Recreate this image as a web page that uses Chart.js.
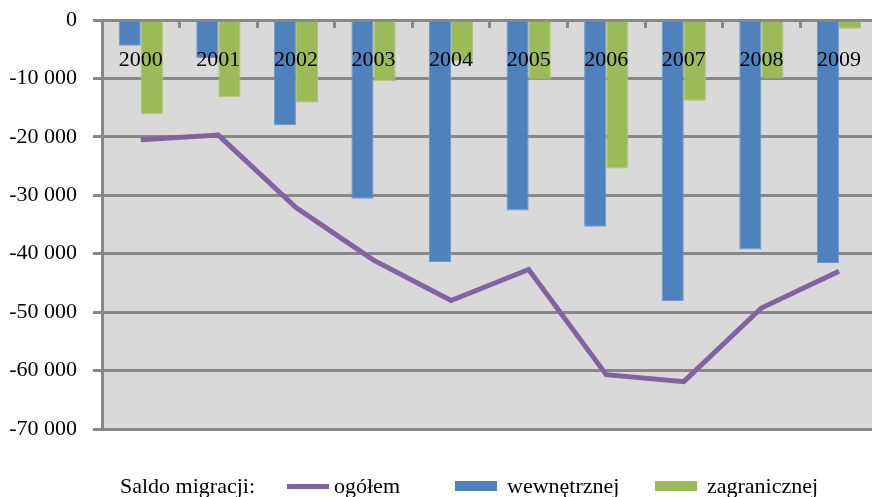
<!DOCTYPE html>
<html>
<head>
<meta charset="utf-8">
<script src="https://cdn.jsdelivr.net/npm/chart.js@4"></script>
<style>
  html, body { margin: 0; padding: 0; overflow: hidden; background: #fff; }
  #wrap { position: relative; width: 872px; height: 497px; overflow: hidden; }
  #chart { position: absolute; left: 0; top: 0; }
  .lg { position: absolute; top: 471px; font: 22px "Liberation Serif", "Times New Roman", serif; color: #000; white-space: nowrap; line-height: 30px; }
  .sw { position: absolute; }
</style>
</head>
<body>
<div id="wrap">
  <canvas id="chart" width="880" height="497"></canvas>
  <div id="legend"></div>
</div>
<script>
const years = ["2000", "2001", "2002", "2003", "2004", "2005", "2006", "2007", "2008", "2009"];
const ogolem = [-20500, -19700, -32100, -41100, -48000, -42700, -60700, -61900, -49300, -43000];
const wewnetrznej = [-4400, -6500, -18000, -30600, -41400, -32600, -35400, -48100, -39300, -41600];
const zagranicznej = [-16100, -13200, -14100, -10500, -7000, -10200, -25400, -13800, -10000, -1500];
const yTicks = [0, -10000, -20000, -30000, -40000, -50000, -60000, -70000];

const gridGray = "#878787";

function fmt(v) {
  const s = String(Math.abs(v)).replace(/\B(?=(\d{3})+(?!\d))/g, " ");
  return v < 0 ? "-" + s : s;
}

const plotBg = {
  id: "plotBg",
  beforeDraw(chart) {
    const a = chart.chartArea;
    const ctx = chart.ctx;
    ctx.save();
    ctx.fillStyle = "#d9d9d9";
    ctx.fillRect(a.left, a.top, a.right - a.left, a.bottom - a.top);
    ctx.restore();
  },
};

const ctx = document.getElementById("chart").getContext("2d");

const chart = new Chart(ctx, {
  type: "bar",
  data: {
    labels: years,
    datasets: [
      {
        type: "line",
        label: "ogółem",
        data: ogolem,
        borderColor: "#8064a2",
        backgroundColor: "#8064a2",
        borderWidth: 5,
        pointRadius: 0,
        tension: 0,
        borderJoinStyle: "miter",
        order: 0,
      },
      {
        label: "wewnętrznej",
        data: wewnetrznej,
        backgroundColor: "#4f81bd",
        borderColor: "#6d97c9",
        borderWidth: 1,
        order: 1,
      },
      {
        label: "zagranicznej",
        data: zagranicznej,
        backgroundColor: "#9bbb59",
        borderColor: "#aac66f",
        borderWidth: 1,
        order: 1,
      },
    ],
  },
  options: {
    responsive: false,
    animation: false,
    layout: { padding: { top: 20, bottom: 68, right: 1, left: 0 } },
    datasets: {
      bar: { categoryPercentage: 0.57, barPercentage: 1.0 },
    },
    plugins: {
      legend: { display: false },
      tooltip: { enabled: false },
    },
    scales: {
      x: {
        position: { y: 0 },
        offset: true,
        grid: {
          offset: true,
          drawOnChartArea: false,
          drawTicks: true,
          tickLength: 8,
          tickColor: gridGray,
          tickWidth: 3,
        },
        border: { display: false },
        ticks: {
          z: 1,
          color: "#000",
          padding: 19,
          maxRotation: 0,
          font: { family: "'Liberation Serif', 'Times New Roman', serif", size: 22 },
        },
      },
      y: {
        min: -70000,
        max: 0,
        afterBuildTicks(scale) {
          scale.ticks = yTicks.map((v) => ({ value: v }));
        },
        afterFit(scale) {
          scale.width = 102;
          scale.paddingTop = 0;
          scale.paddingBottom = 0;
        },
        grid: {
          color: gridGray,
          lineWidth: 3,
          drawTicks: true,
          tickLength: 9,
          tickColor: gridGray,
        },
        border: { display: true, color: gridGray, width: 3 },
        ticks: {
          color: "#000",
          padding: 16,
          callback: (v) => fmt(v),
          font: { family: "'Liberation Serif', 'Times New Roman', serif", size: 22 },
        },
      },
    },
  },
  plugins: [plotBg],
});

// legend below the plot
const legend = document.getElementById("legend");
const title = document.createElement("div");
title.className = "lg";
title.style.left = "120px";
title.textContent = "Saldo migracji:";
legend.appendChild(title);

const entryLeft = [287, 455, 655];
chart.data.datasets.forEach((ds, i) => {
  const sw = document.createElement("div");
  sw.className = "sw";
  const isLine = ds.type === "line";
  sw.style.left = entryLeft[i] + "px";
  sw.style.width = "42px";
  sw.style.top = isLine ? "484px" : "481px";
  sw.style.height = isLine ? "5px" : "10px";
  sw.style.background = isLine ? ds.borderColor : ds.backgroundColor;
  legend.appendChild(sw);
  const t = document.createElement("div");
  t.className = "lg";
  t.style.left = entryLeft[i] + (isLine ? 47 : 52) + "px";
  t.textContent = ds.label;
  legend.appendChild(t);
});
</script>
</body>
</html>
